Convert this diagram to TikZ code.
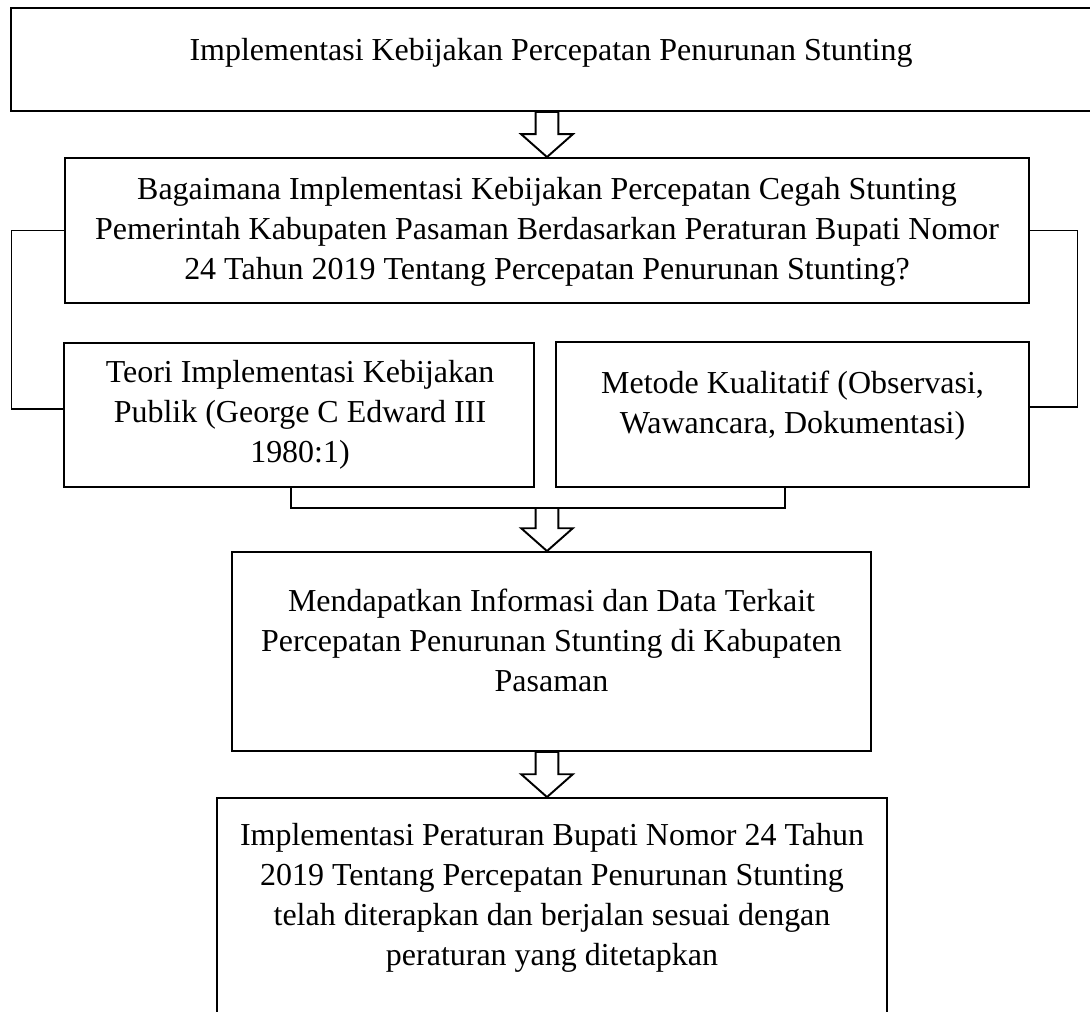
\documentclass[tikz,border=0pt]{standalone}
\usepackage{fontspec}
\setmainfont{Liberation Serif}
\usetikzlibrary{calc}
\tikzstyle{box}=[draw,rectangle,line width=1.1pt,inner sep=0pt]
\tikzstyle{txt}=[align=center,anchor=north,inner sep=0pt,font=\fontsize{18.2pt}{22.7pt}\selectfont]
\tikzstyle{wire}=[line width=0.6pt]
\tikzstyle{barrow}=[draw,fill=white,line width=1.1pt,line join=miter]
\newcommand{\blockarrow}[2]{%
  \draw[barrow] let \p1=(#1), \p2=(#2) in
    (\x2-6.5pt,\y1) -- (\x2-6.5pt,\y2+13pt) -- (\x2-14.7pt,\y2+13pt) -- (\x2,\y2)
    -- (\x2+14.7pt,\y2+13pt) -- (\x2+6.5pt,\y2+13pt) -- (\x2+6.5pt,\y1) -- cycle;}

\begin{document}
\begin{tikzpicture}[x=0.02cm,y=-0.02cm]
  \useasboundingbox (0,0) rectangle (1090,1012);
  \clip (0,0) rectangle (1090,1012);
  \node[box,minimum width=21.6cm,minimum height=2.06cm] (B1) at (551,59.5) {};
  \node[box,minimum width=19.28cm,minimum height=2.9cm] (B2) at (547,230.5) {};
  \node[box,minimum width=9.4cm,minimum height=2.88cm] (B3L) at (299,415) {};
  \node[box,minimum width=9.46cm,minimum height=2.9cm] (B3R) at (792.5,414.5) {};
  \node[box,minimum width=12.78cm,minimum height=3.98cm] (B4) at (551.5,651.5) {};
  \node[box,minimum width=13.4cm,minimum height=4.8cm] (B5) at (552,918) {};

  \node[txt] (T1) at (551,38) {Implementasi Kebijakan Percepatan Penurunan Stunting};
  \node[txt] (T2) at (547,177) {Bagaimana Implementasi Kebijakan Percepatan Cegah Stunting\\
    Pemerintah Kabupaten Pasaman Berdasarkan Peraturan Bupati Nomor\\
    24 Tahun 2019 Tentang Percepatan Penurunan Stunting?};
  \node[txt] (T3L) at (300,360) {Teori Implementasi Kebijakan\\Publik (George C Edward III\\1980:1)};
  \node[txt] (T3R) at (792.5,371) {Metode Kualitatif (Observasi,\\Wawancara, Dokumentasi)};
  \node[txt] (T4) at (551.5,589) {Mendapatkan Informasi dan Data Terkait\\
    Percepatan Penurunan Stunting di Kabupaten\\Pasaman};
  \node[txt] (T5) at (552,823) {Implementasi Peraturan Bupati Nomor 24 Tahun\\
    2019 Tentang Percepatan Penurunan Stunting\\
    telah diterapkan dan berjalan sesuai dengan\\peraturan yang ditetapkan};

  % brackets
  \coordinate (J) at (547,508);
  \draw[wire] (B2.west) -- ++(-53,0) |- ($(B3L.west)+(0,-6)$);
  \draw[wire] (B2.east) -- ++(48,0) |- ($(B3R.east)+(0,-7.5)$);
  \draw[wire] ($(B3L.south)+(-8,0)$) |- (J) -| ($(B3R.south)+(-7.5,0)$);

  \blockarrow{B1.south}{B2.north}
  \blockarrow{J}{B4.north -| J}
  \blockarrow{B4.south}{B5.north -| J}
\end{tikzpicture}
\end{document}
